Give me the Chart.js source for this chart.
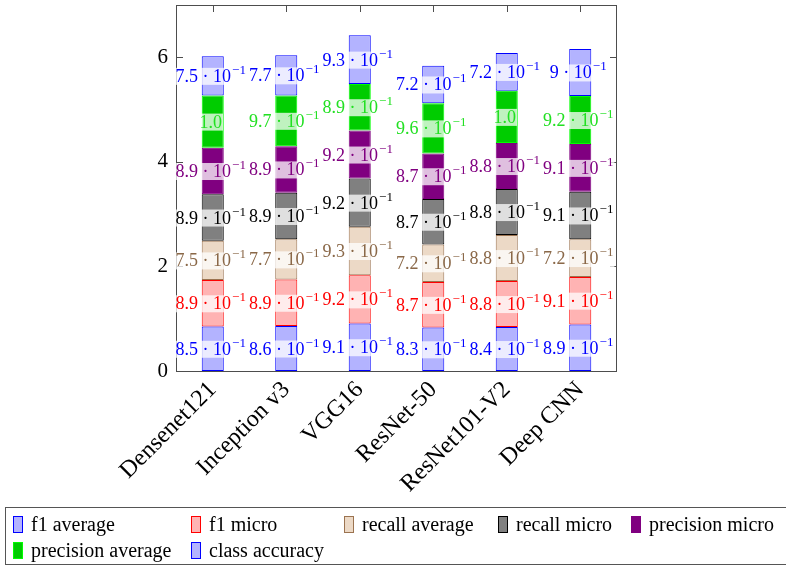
<!DOCTYPE html>
<html>
<head>
<meta charset="utf-8">
<script src="https://cdn.jsdelivr.net/npm/chart.js@4.4.0/dist/chart.umd.min.js"></script>
<style>
  body { margin: 0; background: #fff; overflow: hidden; }
  #wrap { position: relative; width: 786px; height: 568px; }
  #legend {
    position: absolute; left: 5px; top: 507px; width: 820px; height: 58px;
    border: 1px solid #555; box-sizing: border-box;
    display: grid; grid-template-columns: 178px 153px 154px 133px auto;
    grid-auto-rows: 26px; padding: 3px 0 0 7px;
    font-family: 'Liberation Serif', serif; font-size: 20px; color: #000;
  }
  .item { display: flex; align-items: center; white-space: nowrap; }
  .sw { display: inline-block; width: 10px; height: 17px; box-sizing: border-box; margin-right: 8px; }
</style>
</head>
<body>
<div id="wrap">
  <canvas id="chart" width="786" height="568"></canvas>
  <div id="legend"></div>
</div>
<script>
const models = ['Densenet121', 'Inception v3', 'VGG16', 'ResNet-50', 'ResNet101-V2', 'Deep CNN'];

const f1Average = [0.85, 0.86, 0.91, 0.83, 0.84, 0.89];
const f1Micro = [0.89, 0.89, 0.92, 0.87, 0.88, 0.91];
const recallAverage = [0.75, 0.77, 0.93, 0.72, 0.88, 0.72];
const recallMicro = [0.89, 0.89, 0.92, 0.87, 0.88, 0.91];
const precisionMicro = [0.89, 0.89, 0.92, 0.87, 0.88, 0.91];
const precisionAverage = [1.0, 0.97, 0.89, 0.96, 1.0, 0.92];
const classAccuracy = [0.75, 0.77, 0.93, 0.72, 0.72, 0.90];

const yTicks = [0, 2, 4, 6];

const series = [
    { label: 'f1 average', data: f1Average, fill: '#b3b3ff', line: '#0000ff', text: '#0000ff' },
    { label: 'f1 micro', data: f1Micro, fill: '#ffb3b3', line: '#ff0000', text: '#ff0000' },
    { label: 'recall average', data: recallAverage, fill: '#ecd9c6', line: '#9b7350', text: '#8a6848' },
    { label: 'recall micro', data: recallMicro, fill: '#808080', line: '#000000', text: '#000000' },
    { label: 'precision micro', data: precisionMicro, fill: '#800080', line: '#800080', text: '#800080' },
    { label: 'precision average', data: precisionAverage, fill: '#00cc00', line: '#00ff00', text: '#22e022' },
    { label: 'class accuracy', data: classAccuracy, fill: '#b3b3ff', line: '#0000ff', text: '#0000ff' }
];

const serif = "'Liberation Serif', serif";

function fmt(v) {
    if (v >= 1) return { main: v.toFixed(1), sup: '' };
    let m = Math.round(v * 100) / 10;
    let s = Number.isInteger(m) ? String(m) : m.toFixed(1);
    return { main: s + ' \u00b7 10', sup: '\u22121' };
}

// box round the plot and inward ticks, like the pgfplots axis
const axisBox = {
    id: 'axisBox',
    beforeDatasetsDraw(chart) {
        const { ctx, chartArea: a, scales } = chart;
        ctx.save();
        ctx.strokeStyle = '#4d4d4d';
        ctx.lineWidth = 1;
        ctx.strokeRect(a.left + 0.5, a.top + 0.5, a.right - a.left - 1, a.bottom - a.top);
        ctx.beginPath();
        yTicks.forEach(t => {
            const y = Math.round(scales.y.getPixelForValue(t)) + 0.5;
            ctx.moveTo(a.left, y); ctx.lineTo(a.left + 7, y);
            ctx.moveTo(a.right, y); ctx.lineTo(a.right - 7, y);
        });
        models.forEach((m, i) => {
            const x = Math.round(scales.x.getPixelForValue(i)) + 0.5;
            ctx.moveTo(x, a.top); ctx.lineTo(x, a.top + 7);
        });
        ctx.stroke();
        ctx.restore();
    }
};

// value labels near each segment centre with a white backing
const segLabels = {
    id: 'segLabels',
    afterDatasetsDraw(chart) {
        const ctx = chart.ctx;
        ctx.save();
        chart.data.datasets.forEach((ds, di) => {
            const meta = chart.getDatasetMeta(di);
            meta.data.forEach((el, i) => {
                const f = fmt(ds.data[i]);
                const cy = (el.y + el.base) / 2;
                ctx.font = '18px ' + serif;
                const wMain = ctx.measureText(f.main).width;
                ctx.font = '13px ' + serif;
                const wSup = f.sup ? ctx.measureText(f.sup).width + 1 : 0;
                const w = wMain + wSup;
                const x0 = el.x - w / 2 - 2;
                ctx.fillStyle = 'rgba(255,255,255,0.75)';
                ctx.fillRect(x0 - 1, cy - 8, w + 2, 17);
                ctx.fillStyle = series[di].text;
                ctx.textBaseline = 'alphabetic';
                ctx.textAlign = 'left';
                ctx.font = '18px ' + serif;
                ctx.fillText(f.main, x0, cy + 6);
                if (f.sup) {
                    ctx.font = '13px ' + serif;
                    ctx.fillText(f.sup, x0 + wMain + 1, cy - 2);
                }
            });
        });
        ctx.restore();
    }
};

new Chart(document.getElementById('chart'), {
    type: 'bar',
    data: {
        labels: models,
        datasets: series.map(s => ({
            label: s.label,
            data: s.data,
            backgroundColor: s.fill,
            borderColor: s.line,
            borderWidth: 1,
            borderSkipped: false,
            barPercentage: 0.3,
            categoryPercentage: 1
        }))
    },
    options: {
        responsive: false,
        animation: false,
        layout: { padding: { left: 0, right: 169, top: 5, bottom: 67 } },
        plugins: { legend: { display: false }, tooltip: { enabled: false } },
        scales: {
            x: {
                stacked: true,
                offset: true,
                grid: { display: false, drawTicks: false },
                border: { display: false },
                ticks: {
                    color: '#000', font: { family: serif, size: 24 },
                    maxRotation: 45, minRotation: 45, padding: 5
                },
                afterFit(scale) { scale.height = 130; scale.paddingLeft = 0; scale.paddingRight = 0; }
            },
            y: {
                stacked: true,
                min: 0, max: 7,
                grid: { display: false, drawTicks: false },
                border: { display: false },
                ticks: {
                    stepSize: 2, includeBounds: false,
                    color: '#000', font: { family: serif, size: 21 }, padding: 8
                },
                afterFit(scale) { scale.width = 176; scale.paddingTop = 0; scale.paddingBottom = 0; }
            }
        }
    },
    plugins: [axisBox, segLabels]
});

const legend = document.getElementById('legend');
series.forEach(s => {
    const item = document.createElement('div');
    item.className = 'item';
    const sw = document.createElement('span');
    sw.className = 'sw';
    sw.style.background = s.fill;
    sw.style.border = '1px solid ' + s.line;
    item.appendChild(sw);
    item.appendChild(document.createTextNode(s.label));
    legend.appendChild(item);
});
</script>
</body>
</html>
